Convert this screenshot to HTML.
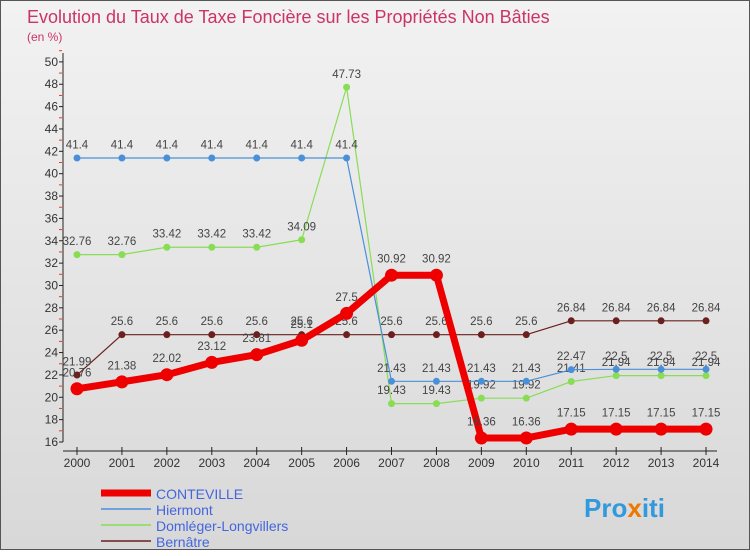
<!DOCTYPE html>
<html><head><meta charset="utf-8"><style>
body{margin:0;width:750px;height:550px;overflow:hidden;font-family:"Liberation Sans",sans-serif}
#c{position:absolute;left:0;top:0;width:748px;height:548px;border:1px solid #555;background:linear-gradient(#f2f2f2,#d8d8d8)}
</style></head><body>
<div id="c">
<svg id="s" width="750" height="550" xmlns="http://www.w3.org/2000/svg">
<text x="26" y="22" font-size="18" fill="#cc3366">Evolution du Taux de Taxe Foncière sur les Propriétés Non Bâties</text>
<text x="26" y="40" font-size="12" fill="#cc3366">(en %)</text>
<g id="axes"></g><g id="series"></g>
<g>
<line x1="100" y1="492" x2="150" y2="492" stroke="#ee0000" stroke-width="7"/>
<text x="155" y="498" font-size="14" fill="#4466dd">CONTEVILLE</text>
<line x1="100" y1="508" x2="150" y2="508" stroke="#4a90d9" stroke-width="1.5"/>
<text x="155" y="514" font-size="14" fill="#4466dd">Hiermont</text>
<line x1="100" y1="524" x2="150" y2="524" stroke="#88dd55" stroke-width="1.5"/>
<text x="155" y="530" font-size="14" fill="#4466dd">Domléger-Longvillers</text>
<line x1="100" y1="540" x2="150" y2="540" stroke="#6b1f1f" stroke-width="1.5"/>
<text x="155" y="546" font-size="14" fill="#4466dd">Bernâtre</text>
</g>
<text x="583" y="516" font-size="26" font-weight="bold" fill="#3399dd">Pro<tspan fill="#ee7700">x</tspan>iti</text>
</svg></div>
<script>
const years=[2000,2001,2002,2003,2004,2005,2006,2007,2008,2009,2010,2011,2012,2013,2014];
const conteville=[20.76,21.38,22.02,23.12,23.81,25.1,27.5,30.92,30.92,16.36,16.36,17.15,17.15,17.15,17.15];
const hiermont=[41.4,41.4,41.4,41.4,41.4,41.4,41.4,21.43,21.43,21.43,21.43,22.47,22.5,22.5,22.5];
const domleger=[32.76,32.76,33.42,33.42,33.42,34.09,47.73,19.43,19.43,19.92,19.92,21.41,21.94,21.94,21.94];
const bernatre=[21.99,25.6,25.6,25.6,25.6,25.6,25.6,25.6,25.6,25.6,25.6,26.84,26.84,26.84,26.84];
const yTicks=[16,18,20,22,24,26,28,30,32,34,36,38,40,42,44,46,48,50];
const NS="http://www.w3.org/2000/svg";
const X=i=>76+i*44.93, Y=v=>441-(v-16)*11.18;
function mk(t,a,p){const e=document.createElementNS(NS,t);for(const k in a)e.setAttribute(k,a[k]);p.appendChild(e);return e;}
const ax=document.getElementById('axes'),sg=document.getElementById('series');
let e=mk('line',{x1:62,y1:52,x2:62,y2:441,stroke:'#222'},ax);

e=mk('line',{x1:62,y1:450,x2:716,y2:450,stroke:'#222'},ax);

yTicks.forEach(v=>{mk('line',{x1:58,y1:Y(v),x2:62,y2:Y(v),stroke:'#222'},ax);
mk('line',{x1:58,y1:Y(v+1),x2:61,y2:Y(v+1),stroke:'#e33'},ax);
const t=mk('text',{x:57,y:Y(v)+4,'font-size':12,'text-anchor':'end',fill:'#333'},ax);t.textContent=v;
});
years.forEach((y,i)=>{mk('line',{x1:X(i),y1:446,x2:X(i),y2:454,stroke:'#222'},ax);
const t=mk('text',{x:X(i),y:466,'font-size':12,'text-anchor':'middle',fill:'#333'},ax);t.textContent=y;
});
function series(d,col,w,r,name){const g=mk('g',{},sg);

mk('polyline',{points:d.map((v,i)=>X(i)+','+Y(v)).join(' '),fill:'none',stroke:col,'stroke-width':w,'stroke-linejoin':'round'},g);
d.forEach((v,i)=>{const c=mk('circle',{cx:X(i),cy:Y(v),r:r,fill:col},g);

const t=mk('text',{x:X(i),y:Y(v)-(r+6),'font-size':11.5,'text-anchor':'middle',fill:'#444'},g);t.textContent=String(v).replace(/\.?0+$/,'');
});}
series(bernatre,'#6b1f1f',1.2,3.5,'bernatre');
series(domleger,'#88dd55',1.2,3.5,'domleger');
series(hiermont,'#4a90d9',1.2,3.5,'hiermont');
series(conteville,'#ee0000',7,6.5,'conteville');
</script></body></html>
